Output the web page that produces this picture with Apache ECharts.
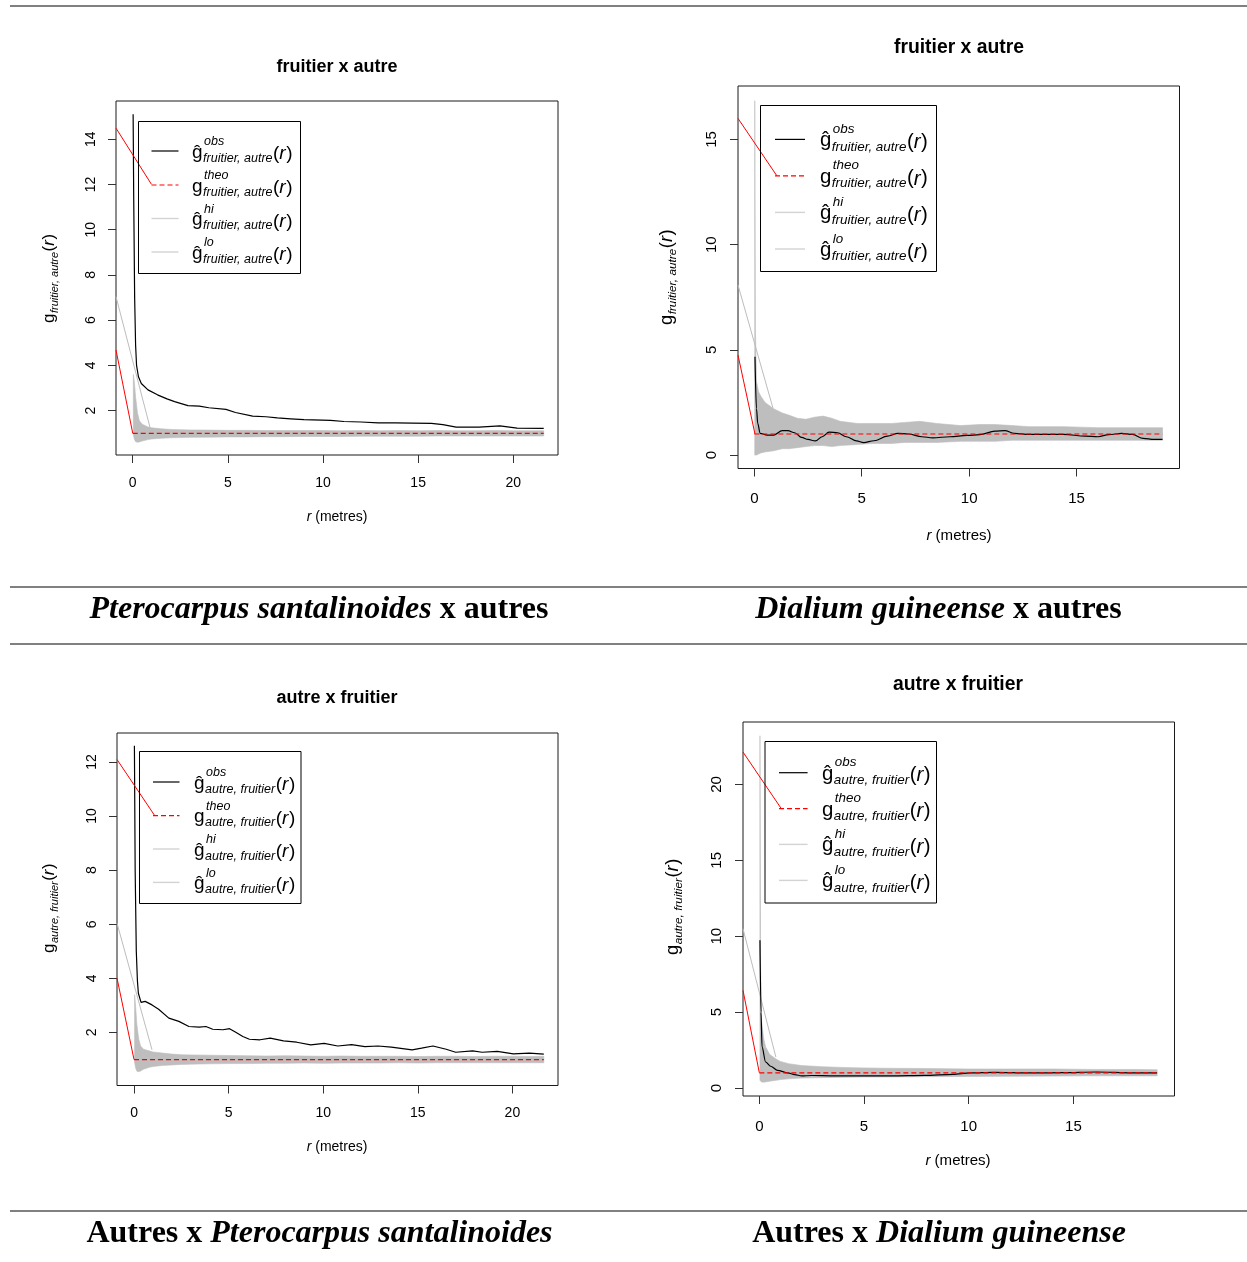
<!DOCTYPE html>
<html><head><meta charset="utf-8">
<script src="https://cdn.jsdelivr.net/npm/echarts@6/dist/echarts.min.js"></script>
<style>html,body{margin:0;padding:0;background:#fff}#c{width:1247px;height:1262px}</style>
</head><body><div id="c"></div>
<script>
// ---------------- DATA ----------------
const xTicksA = [0, 5, 10, 15, 20];
const xTicksB = [0, 5, 10, 15];
const yTicks1 = [2, 4, 6, 8, 10, 12, 14];
const yTicks2 = [0, 5, 10, 15];
const yTicks3 = [2, 4, 6, 8, 10, 12];
const yTicks4 = [0, 5, 10, 15, 20];

const titles = ['fruitier x autre', 'fruitier x autre', 'autre x fruitier', 'autre x fruitier'];
const subLabels = ['fruitier, autre', 'fruitier, autre', 'autre, fruitier', 'autre, fruitier'];
const legendSups = ['obs', 'theo', 'hi', 'lo'];
const xAxisName = ['r', ' (metres)'];
const captions = [
  ['Pterocarpus santalinoides', ' x autres', 'it-first'],
  ['Dialium guineense', ' x autres', 'it-first'],
  ['Autres x ', 'Pterocarpus santalinoides', 'it-second'],
  ['Autres x ', 'Dialium guineense', 'it-second']
];

// Panel 1 : fruitier x autre (Pterocarpus)
const rObs1 = [0.02, 0.05, 0.1, 0.15, 0.2, 0.3, 0.45, 0.8, 1.3, 1.8, 2.2, 2.9, 3.5, 4.0, 4.9, 5.4, 6.3, 7.0, 7.6, 8.3, 9.0, 10.4, 11.1, 12.0, 12.9, 13.8, 14.7, 15.7, 16.3, 17.0, 18.2, 19.3, 20.2, 21.6];
const gObs1 = [15.1, 11.5, 7.0, 4.9, 4.0, 3.5, 3.2, 2.92, 2.7, 2.52, 2.4, 2.22, 2.2, 2.13, 2.06, 1.92, 1.76, 1.73, 1.68, 1.64, 1.6, 1.57, 1.52, 1.5, 1.46, 1.46, 1.45, 1.44, 1.38, 1.27, 1.27, 1.33, 1.23, 1.22];
const rEnv1 = [0.03, 0.08, 0.15, 0.25, 0.35, 0.5, 0.8, 1.0, 1.5, 2, 2.5, 3, 4, 5, 6, 7, 8, 9, 10, 11, 12, 13, 14, 15, 16, 17, 18, 19, 20, 21, 21.6];
const gHi1 = [3.6, 3.3, 2.6, 1.9, 1.55, 1.4, 1.28, 1.24, 1.2, 1.17, 1.16, 1.15, 1.14, 1.13, 1.13, 1.12, 1.12, 1.12, 1.12, 1.11, 1.12, 1.11, 1.12, 1.11, 1.12, 1.11, 1.11, 1.12, 1.11, 1.11, 1.11];
const gLo1 = [0.95, 0.75, 0.63, 0.6, 0.62, 0.66, 0.72, 0.75, 0.78, 0.8, 0.81, 0.82, 0.83, 0.84, 0.84, 0.85, 0.85, 0.86, 0.86, 0.86, 0.87, 0.87, 0.87, 0.87, 0.88, 0.88, 0.88, 0.88, 0.88, 0.88, 0.88];
const rTheo1 = [0, 21.6], gTheo1 = [1, 1];
const rRedA1 = [-0.88, 0.98], gRedA1 = [14.49, 12.01];
const rRedB1 = [-0.88, 0], gRedB1 = [4.68, 1.0];
const rGrey1 = [-0.88, 0.92], gGrey1 = [7.04, 1.22];

// Panel 2 : fruitier x autre (Dialium)
const rObs2 = [0.03, 0.1, 0.16, 0.27, 0.6, 0.91, 1.3, 1.56, 1.88, 2.2, 2.5, 2.84, 3.16, 3.48, 3.88, 4.28, 4.76, 5.09, 5.57, 6.2, 6.69, 7.17, 7.8, 8.3, 9.1, 9.9, 10.5, 11.2, 11.66, 12.1, 12.8, 14.4, 15.4, 16.0, 16.5, 17.1, 17.6, 18.1, 18.6, 19.0];
const gObs2 = [4.67, 2.2, 1.5, 1.03, 0.95, 0.95, 1.16, 1.16, 1.06, 0.84, 0.74, 0.67, 0.87, 1.09, 1.06, 0.87, 0.67, 0.59, 0.68, 0.9, 1.03, 1.0, 0.87, 0.82, 0.87, 0.93, 0.97, 1.14, 1.16, 1.03, 0.98, 0.98, 0.9, 0.87, 0.97, 1.03, 0.98, 0.79, 0.74, 0.74];
const rEnv2 = [0.02, 0.05, 0.1, 0.2, 0.3, 0.5, 0.9, 1.3, 1.6, 2.0, 2.4, 2.8, 3.2, 3.6, 4.0, 4.8, 5.5, 6.4, 7.0, 7.7, 8.5, 9.6, 10.5, 11.2, 12, 12.8, 14.4, 16, 17.5, 19.0];
const gHi2 = [16.84, 6, 3.5, 3.0, 2.8, 2.5, 2.2, 2.0, 1.9, 1.75, 1.7, 1.8, 1.85, 1.75, 1.6, 1.5, 1.5, 1.5, 1.55, 1.6, 1.5, 1.4, 1.45, 1.45, 1.4, 1.35, 1.35, 1.3, 1.3, 1.3];
const gLo2 = [0.0, 0.0, 0.0, 0.05, 0.1, 0.15, 0.2, 0.3, 0.3, 0.35, 0.4, 0.45, 0.45, 0.4, 0.45, 0.5, 0.55, 0.55, 0.6, 0.6, 0.6, 0.65, 0.65, 0.65, 0.7, 0.7, 0.7, 0.7, 0.7, 0.7];
const rTheo2 = [0, 19.0], gTheo2 = [1, 1];
const rRedA2 = [-0.76, 1.05], gRedA2 = [16.0, 13.27];
const rRedB2 = [-0.76, 0.03], gRedB2 = [4.75, 1.0];
const rGrey2 = [-0.76, 0.87], gGrey2 = [8.08, 2.22];

// Panel 3 : autre x fruitier (Pterocarpus)
const rObs3 = [0.02, 0.06, 0.12, 0.18, 0.23, 0.37, 0.59, 0.95, 1.3, 1.84, 2.37, 2.9, 3.45, 3.8, 4.16, 4.7, 5.05, 5.4, 5.75, 6.1, 6.66, 7.2, 7.9, 8.6, 9.34, 10.05, 10.77, 11.5, 12.2, 12.9, 13.6, 14.7, 15.2, 15.8, 16.5, 17.0, 17.9, 18.4, 19.2, 20.05, 20.9, 21.66];
const gObs3 = [12.6, 8.0, 5.0, 3.9, 3.45, 3.11, 3.15, 3.02, 2.86, 2.53, 2.41, 2.22, 2.2, 2.22, 2.12, 2.1, 2.14, 2.0, 1.85, 1.75, 1.73, 1.79, 1.69, 1.64, 1.54, 1.6, 1.5, 1.55, 1.48, 1.5, 1.46, 1.36, 1.42, 1.5, 1.38, 1.27, 1.32, 1.27, 1.3, 1.21, 1.24, 1.2];
const rEnv3 = [0.03, 0.08, 0.15, 0.25, 0.35, 0.5, 0.8, 1.0, 1.5, 2, 2.5, 3, 4, 5, 6, 7, 8, 9, 10, 11, 12, 13, 14, 15, 16, 17, 18, 19, 20, 21, 21.66];
const gHi3 = [3.4, 3.0, 2.3, 1.75, 1.5, 1.38, 1.32, 1.28, 1.24, 1.2, 1.18, 1.17, 1.16, 1.15, 1.14, 1.13, 1.14, 1.13, 1.12, 1.13, 1.12, 1.12, 1.12, 1.11, 1.12, 1.12, 1.11, 1.12, 1.12, 1.11, 1.12];
const gLo3 = [0.9, 0.7, 0.57, 0.55, 0.58, 0.64, 0.71, 0.74, 0.78, 0.8, 0.82, 0.83, 0.84, 0.85, 0.85, 0.86, 0.86, 0.87, 0.86, 0.87, 0.87, 0.87, 0.88, 0.87, 0.88, 0.88, 0.88, 0.88, 0.88, 0.88, 0.88];
const rTheo3 = [0, 21.66], gTheo3 = [1, 1];
const rRedA3 = [-0.9, 1.08], gRedA3 = [12.09, 10.03];
const rRedB3 = [-0.9, 0], gRedB3 = [4.01, 1.0];
const rGrey3 = [-0.9, 0.95], gGrey3 = [6.04, 1.36];

// Panel 4 : autre x fruitier (Dialium)
const rObs4 = [0.03, 0.08, 0.13, 0.3, 0.54, 0.87, 1.36, 1.69, 2.02, 2.5, 3.5, 4.5, 5.5, 6.3, 7.9, 9.25, 10.07, 11.2, 12.9, 14.5, 16.1, 17.8, 19.0];
const gObs4 = [9.73, 5.0, 2.7, 1.71, 1.43, 1.16, 0.99, 0.88, 0.79, 0.82, 0.8, 0.8, 0.79, 0.8, 0.83, 0.9, 0.99, 1.03, 0.99, 1.01, 1.05, 0.99, 0.99];
const rEnv4 = [0.03, 0.06, 0.1, 0.2, 0.3, 0.5, 0.8, 1.0, 1.4, 2, 3, 4, 5, 6, 8, 10, 12, 14, 16, 18, 19];
const gHi4 = [23.2, 8, 4.5, 3.3, 2.7, 2.2, 1.9, 1.75, 1.6, 1.48, 1.4, 1.35, 1.32, 1.3, 1.28, 1.25, 1.25, 1.25, 1.22, 1.22, 1.2];
const gLo4 = [0.5, 0.45, 0.4, 0.38, 0.4, 0.45, 0.5, 0.55, 0.6, 0.65, 0.68, 0.7, 0.72, 0.72, 0.74, 0.76, 0.77, 0.78, 0.8, 0.8, 0.8];
const rTheo4 = [0, 19.0], gTheo4 = [1, 1];
const rRedA4 = [-0.78, 1.05], gRedA4 = [22.13, 18.4];
const rRedB4 = [-0.78, 0], gRedB4 = [6.43, 1.0];
const rGrey4 = [-0.78, 0.79], gGrey4 = [10.49, 2.04];

// ---------------- LAYOUT ----------------
const FS = "'Liberation Sans', Arial, Helvetica, sans-serif";
const SERIF = "'Liberation Serif', 'Times New Roman', serif";
const panels = [
  {grid: [116, 101, 442, 354], xr: [-0.88, 22.35], yr: [0.04, 15.69], xt: xTicksA, yt: yTicks1, k: 1,
   title: [337, 67], xname: [337, 517], ylab: [55, 323], xm: 21, ym: 18,
   leg: {box: [138, 121, 162, 152], sx: [151.5, 178.5], rows: [151, 185, 218.5, 252], tx: 192},
   d: {rObs: rObs1, gObs: gObs1, rEnv: rEnv1, hi: gHi1, lo: gLo1, rT: rTheo1, gT: gTheo1, rA: rRedA1, gA: gRedA1, rB: rRedB1, gB: gRedB1, rG: rGrey1, gG: gGrey1, smooth: false}},
  {grid: [738, 86, 441.5, 382.5], xr: [-0.76, 19.79], yr: [-0.64, 17.54], xt: xTicksB, yt: yTicks2, k: 1.075,
   title: [959, 48], xname: [959, 536], ylab: [673, 325], xm: 23, ym: 19,
   leg: {box: [760, 105, 176, 166], sx: [775, 805], rows: [139.4, 175.8, 212.4, 249], tx: 820},
   d: {rObs: rObs2, gObs: gObs2, rEnv: rEnv2, hi: gHi2, lo: gLo2, rT: rTheo2, gT: gTheo2, rA: rRedA2, gA: gRedA2, rB: rRedB2, gB: gRedB2, rG: rGrey2, gG: gGrey2, smooth: 0.35}},
  {grid: [117, 733, 441, 352.5], xr: [-0.9, 22.41], yr: [0.04, 13.07], xt: xTicksA, yt: yTicks3, k: 1,
   title: [337, 698], xname: [337, 1147], ylab: [55, 953], xm: 21, ym: 18,
   leg: {box: [139, 751, 161.5, 152], sx: [153, 179.5], rows: [782, 815.6, 849, 882.4], tx: 194},
   d: {rObs: rObs3, gObs: gObs3, rEnv: rEnv3, hi: gHi3, lo: gLo3, rT: rTheo3, gT: gTheo3, rA: rRedA3, gA: gRedA3, rB: rRedB3, gB: gRedB3, rG: rGrey3, gG: gGrey3, smooth: false}},
  {grid: [743, 722, 431.5, 374], xr: [-0.78, 19.83], yr: [-0.53, 24.11], xt: xTicksB, yt: yTicks4, k: 1.075,
   title: [958, 685], xname: [958, 1161], ylab: [679, 955], xm: 23, ym: 19,
   leg: {box: [764.5, 741, 171.5, 161.5], sx: [779, 807.6], rows: [772.7, 808.7, 844.4, 880.4], tx: 822},
   d: {rObs: rObs4, gObs: gObs4, rEnv: rEnv4, hi: gHi4, lo: gLo4, rT: rTheo4, gT: gTheo4, rA: rRedA4, gA: gRedA4, rB: rRedB4, gB: gRedB4, rG: rGrey4, gG: gGrey4, smooth: 0.3}}
];

// ---------------- HELPERS ----------------
const mctx = document.createElement('canvas').getContext('2d');
function tw(text, font) { mctx.font = font; return mctx.measureText(text).width; }
function T(x, y, text, font, fill, align) {
  return {type: 'text', x: x, y: y, silent: true,
    style: {text: text, font: font, fill: fill || '#000', align: align || 'left', verticalAlign: 'middle'}};
}
const zip = (a, b) => a.map((v, j) => [v, b[j]]);
const BASE = 0.35;

// composite "g^sup_sub(r)" with baseline at y=0, start x=0
function mathPieces(gChar, sup, sub, gs, ss, rs, supB, subB, rB, gB) {
  const out = [];
  const gFont = gs + 'px ' + FS;
  const sFont = 'italic ' + ss + 'px ' + FS;
  const rFont = rs + 'px ' + FS;
  const riFont = 'italic ' + rs + 'px ' + FS;
  let x = 0;
  out.push(T(x, gB - BASE * gs, gChar, gFont));
  x += tw(gChar, gFont) + 0.5;
  let w = 0;
  if (sup) { out.push(T(x + 1, supB - BASE * ss, sup, sFont)); w = Math.max(w, tw(sup, sFont) + 1); }
  if (sub) { out.push(T(x, subB - BASE * ss, sub, sFont)); w = Math.max(w, tw(sub, sFont)); }
  x += w + 0.5;
  out.push(T(x, rB - BASE * rs, '(', rFont)); x += tw('(', rFont);
  out.push(T(x, rB - BASE * rs, 'r', riFont)); x += tw('r', riFont) + 0.5;
  out.push(T(x, rB - BASE * rs, ')', rFont));
  return out;
}

const sampleStyles = [
  {stroke: '#000', lineWidth: 1.2},
  {stroke: '#ff0000', lineWidth: 1.2, lineDash: [5, 3]},
  {stroke: '#d3d3d3', lineWidth: 1.4},
  {stroke: '#d3d3d3', lineWidth: 1.4}
];

// ---------------- BUILD ----------------
const grids = [], xAxes = [], yAxes = [], series = [], graphics = [];

panels.forEach((P, i) => {
  const k = P.k;
  grids.push({left: P.grid[0], top: P.grid[1], width: P.grid[2], height: P.grid[3], show: true,
    borderColor: '#1a1a1a', borderWidth: 1, backgroundColor: 'transparent', outerBoundsMode: 'none', containLabel: false});
  const lab = {fontFamily: FS, fontSize: 14 * k, color: '#000'};
  xAxes.push({gridIndex: i, type: 'value', min: P.xr[0], max: P.xr[1], position: 'bottom',
    axisLine: {show: false, onZero: false}, splitLine: {show: false},
    axisTick: {show: true, customValues: P.xt, length: 8, lineStyle: {color: '#333', width: 1}},
    axisLabel: Object.assign({show: true, customValues: P.xt, margin: P.xm}, lab)});
  yAxes.push({gridIndex: i, type: 'value', min: P.yr[0], max: P.yr[1], position: 'left',
    axisLine: {show: false, onZero: false}, splitLine: {show: false},
    axisTick: {show: true, customValues: P.yt, length: 8, lineStyle: {color: '#333', width: 1}},
    axisLabel: Object.assign({show: true, customValues: P.yt, margin: P.ym, rotate: 90}, lab)});

  const D = P.d;
  const rEnv = D.rEnv, hi = D.hi, lo = D.lo;
  series.push({type: 'custom', xAxisIndex: i, yAxisIndex: i, silent: true, z: 1,
    data: zip(rEnv, hi),
    renderItem: function (params, api) {
      if (params.dataIndex !== 0) return null;
      const pts = [];
      for (let j = 0; j < rEnv.length; j++) pts.push(api.coord([rEnv[j], hi[j]]));
      for (let j = rEnv.length - 1; j >= 0; j--) pts.push(api.coord([rEnv[j], lo[j]]));
      return {type: 'polygon', shape: {points: pts}, style: {fill: '#bebebe', stroke: '#bebebe', lineWidth: 0.6}};
    }});
  const line = (data, color, width, type, smooth, z) => ({type: 'line', xAxisIndex: i, yAxisIndex: i, data: data,
    symbol: 'none', silent: true, z: z || 3, smooth: smooth || false, smoothMonotone: 'x',
    lineStyle: {color: color, width: width, type: type || 'solid'}});
  series.push(line(zip(D.rObs, D.gObs), '#000', 1.2, 'solid', D.smooth, 3));
  series.push(line(zip(D.rT, D.gT), '#ff0000', 1.2, [5, 3], false, 4));
  series.push(line(zip(D.rA, D.gA), '#ff0000', 1, 'solid', false, 4));
  series.push(line(zip(D.rB, D.gB), '#ff0000', 1, 'solid', false, 4));
  series.push(line(zip(D.rG, D.gG), '#bdbdbd', 1, 'solid', false, 2));

  // title
  graphics.push(T(P.title[0], P.title[1], titles[i], 'bold ' + (18 * k) + 'px ' + FS, '#000', 'center'));
  // x axis name "r (metres)"
  const f1 = 'italic ' + (14 * k) + 'px ' + FS, f2 = (14 * k) + 'px ' + FS;
  const w1 = tw(xAxisName[0], f1), w2 = tw(xAxisName[1], f2);
  const x0 = P.xname[0] - (w1 + w2) / 2;
  graphics.push(T(x0, P.xname[1], xAxisName[0], f1));
  graphics.push(T(x0 + w1, P.xname[1], xAxisName[1], f2));
  // y axis label (rotated)
  graphics.push({type: 'group', x: P.ylab[0], y: P.ylab[1], rotation: Math.PI / 2, silent: true,
    children: mathPieces('g', null, subLabels[i], 17 * k, 11 * k, 17 * k, 0, 3.5 * k, 0, 0)});
  // legend
  const L = P.leg;
  graphics.push({type: 'rect', silent: true, shape: {x: L.box[0] + 0.5, y: L.box[1] + 0.5, width: L.box[2], height: L.box[3]},
    style: {fill: 'none', stroke: '#000', lineWidth: 1}, z: 50});
  legendSups.forEach((s, j) => {
    const yc = L.rows[j];
    graphics.push({type: 'line', silent: true, shape: {x1: L.sx[0], y1: yc, x2: L.sx[1], y2: yc}, style: sampleStyles[j], z: 50});
    graphics.push({type: 'group', x: L.tx, y: yc, silent: true, z: 50,
      children: mathPieces(j === 1 ? 'g' : '\u011D', s, subLabels[i], 19 * k, 12.5 * k, 19 * k, -5 * k, 11.5 * k, 9.5 * k, 8 * k)});
  });
});

// horizontal rules
[6, 587, 644, 1211].forEach(y => {
  graphics.push({type: 'rect', silent: true, shape: {x: 10, y: y - 1, width: 1237, height: 2}, style: {fill: '#808080'}});
});

// captions
const capPos = [[319, 610], [938.5, 610], [319.5, 1234], [939, 1234]];
const CAPFS = 32;
captions.forEach((c, i) => {
  const itFirst = c[2] === 'it-first';
  graphics.push({type: 'text', x: capPos[i][0], y: capPos[i][1], silent: true,
    style: {text: itFirst ? '{i|' + c[0] + '}{b|' + c[1] + '}' : '{b|' + c[0] + '}{i|' + c[1] + '}',
      align: 'center', verticalAlign: 'middle', fontSize: CAPFS, fontFamily: SERIF, fontWeight: 'bold', fill: '#000',
      rich: {
        i: {fontStyle: 'italic', fontWeight: 'bold', fontSize: CAPFS, fontFamily: SERIF, fill: '#000'},
        b: {fontStyle: 'normal', fontWeight: 'bold', fontSize: CAPFS, fontFamily: SERIF, fill: '#000'}
      }}});
});

const chart = echarts.init(document.getElementById('c'), null, {renderer: 'canvas', width: 1247, height: 1262});
chart.setOption({
  animation: false,
  backgroundColor: '#fff',
  grid: grids, xAxis: xAxes, yAxis: yAxes, series: series,
  graphic: graphics
});
</script></body></html>
